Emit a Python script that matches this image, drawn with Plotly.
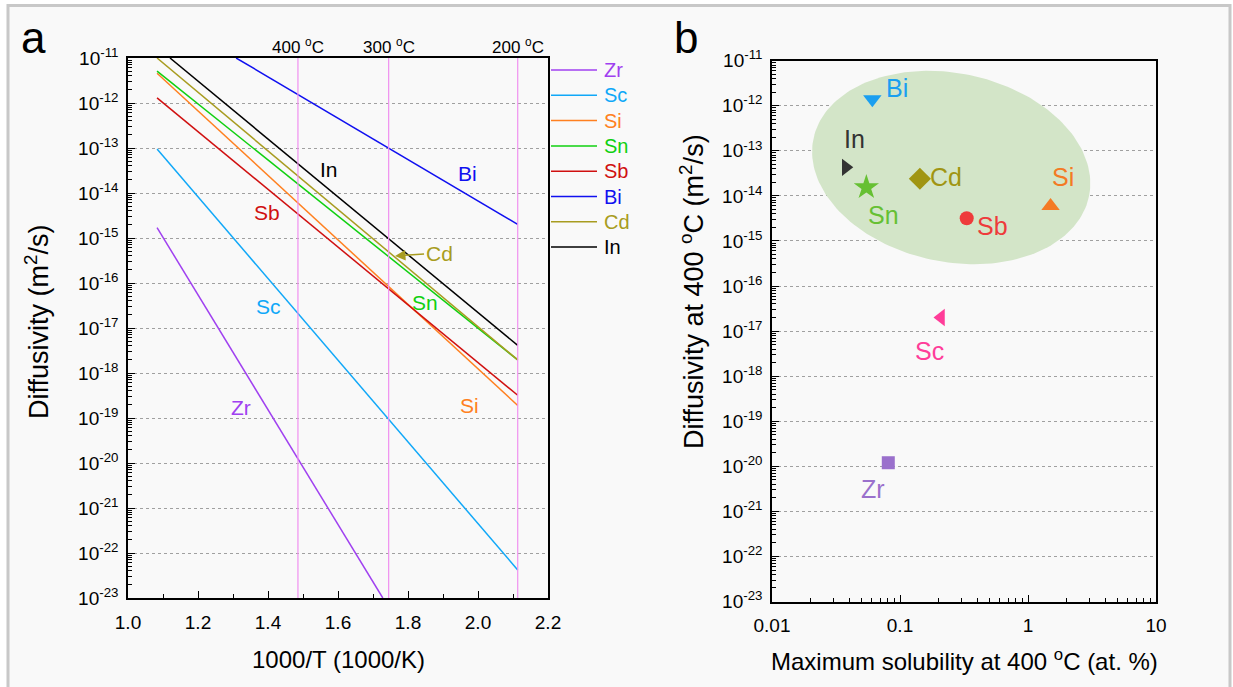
import numpy as np
import plotly.graph_objects as go

W, H = 1233, 687
FONT = "Liberation Sans, Arial, Helvetica, sans-serif"

# ---- Panel a: Arrhenius lines (end points in 1000/T and D, m^2/s) ----
elements = ["Zr", "Sc", "Si", "Sn", "Sb", "Bi", "Cd", "In"]
line_colors = ["#a040f0", "#10a8f8", "#ff8020", "#10d010", "#d01010", "#1010f0", "#a89c20", "#000000"]
inv_T_start = [1.083, 1.083, 1.083, 1.083, 1.083, 1.309, 1.083, 1.120]
inv_T_end = [1.728, 2.1135, 2.1135, 2.1135, 2.1135, 2.1135, 2.1135, 2.1135]
D_start = [1.7e-15, 9.5e-14, 4.6e-12, 5.1e-12, 1.3e-12, 1.0e-11, 1.0e-11, 1.0e-11]
D_end = [1.0e-23, 4.2e-23, 1.9e-19, 1.95e-18, 3.2e-19, 2.0e-15, 1.95e-18, 4.1e-18]

# in-plot labels of panel a: (1000/T, log10 D)
label_a_x = [1.323, 1.400, 1.977, 1.849, 1.397, 1.969, 1.880, 1.574]
label_a_logy = [-18.76, -16.53, -18.73, -16.44, -14.44, -13.56, -15.36, -13.47]

# reference temperatures (deg C) marked by vertical lines
ref_temps_C = [400, 300, 200]

# ---- Panel b: diffusivity at 400 C vs maximum solubility ----
solubility_400C = [0.081, 0.209, 1.50, 0.0546, 0.332, 0.0608, 0.143, 0.0377]   # at.%
D_400C = [1.2e-20, 2.0e-17, 6.0e-15, 1.55e-14, 3.2e-15, 1.4e-12, 2.4e-14, 4.3e-14]
marker_symbols = ["square", "triangle-left", "triangle-up", "star", "circle",
                  "triangle-down", "diamond", "triangle-right"]
marker_colors = ["#9a70cc", "#ff3d99", "#f47a24", "#66c033", "#ee3b3b", "#1a9ff0", "#a09512", "#333333"]
marker_sizes = [13, 15, 16, 19, 14, 16, 17, 15]
# label offsets (px) from each marker
label_b_dx = [-15, -11, 12, 17, 26, 25, 26, 9]
label_b_dy = [-26, -33, 29, -28, -8, 11, 2, 28]

fig = go.Figure()

# lines of panel a
for name, c, x0, x1, d0, d1 in zip(elements, line_colors, inv_T_start, inv_T_end, D_start, D_end):
    fig.add_trace(go.Scatter(x=[x0, x1], y=[d0, d1], mode="lines", name=name,
                             line=dict(color=c, width=1.5), xaxis="x", yaxis="y",
                             showlegend=False, hoverinfo="skip"))

# shaded region grouping the fast diffusers in panel b (ellipse in log-log space)
t = np.linspace(0, 2 * np.pi, 200)
cx, cy = -0.60, -13.37
ux, uy = 1.076, -0.644
vx, vy = -0.152, -2.047
ex = 10 ** (cx + ux * np.cos(t) + vx * np.sin(t))
ey = 10 ** (cy + uy * np.cos(t) + vy * np.sin(t))
fig.add_trace(go.Scatter(x=ex, y=ey, mode="lines", fill="toself", fillcolor="#d3e5c8",
                         line=dict(width=0, color="#d3e5c8"), xaxis="x2", yaxis="y2",
                         showlegend=False, hoverinfo="skip"))

for name, s, d, sym, c, sz in zip(elements, solubility_400C, D_400C, marker_symbols, marker_colors, marker_sizes):
    fig.add_trace(go.Scatter(x=[s], y=[d], mode="markers", name=name,
                             marker=dict(symbol=sym, color=c, size=sz, line=dict(width=0)),
                             xaxis="x2", yaxis="y2", showlegend=False))

dec = list(range(-23, -10))
y_tickvals = [10.0 ** e for e in dec]
y_ticktext = ["10<sup>%d</sup>" % e for e in dec]
y_minor_vals = [k * 10.0 ** e for e in dec[:-1] for k in range(2, 10)]
x2_tickvals = [0.01, 0.1, 1, 10]
x2_ticktext = ["0.01", "0.1", "1", "10"]
x2_minor_vals = [k * 10.0 ** e for e in range(-2, 1) for k in range(2, 10)]

axis_common = dict(showline=True, linecolor="black", linewidth=1.5, mirror=True,
                   ticks="inside", ticklen=7, tickwidth=1, tickcolor="black",
                   zeroline=False, automargin=False,
                   tickfont=dict(size=19, color="black", family=FONT))
minor_log_y = dict(tickmode="array", tickvals=y_minor_vals, ticks="inside", ticklen=4,
                   tickcolor="black", showgrid=False)

xa = 128 / W, 548 / W
xb = 772 / W, 1156 / W
ya = 1 - 598 / H, 1 - 58 / H
yb = 1 - 601.5 / H, 1 - 60.7 / H

fig.update_layout(
    width=W, height=H,
    margin=dict(l=0, r=0, t=0, b=0, pad=0),
    paper_bgcolor="white", plot_bgcolor="rgba(0,0,0,0)",
    font=dict(family=FONT, color="black"),
    showlegend=False,
    xaxis=dict(domain=xa, range=[1.0, 2.2], anchor="y", tick0=1.0, dtick=0.2,
               tickformat=".1f", showgrid=False, ticklabelstandoff=6,
               minor=dict(ticks="inside", ticklen=4, dtick=0.1, tickcolor="black"),
               **axis_common),
    yaxis=dict(domain=ya, type="log", range=[-23, -11], anchor="x",
               tickmode="array", tickvals=y_tickvals, ticktext=y_ticktext,
               showgrid=True, gridcolor="#a0a0a0", griddash="dot", gridwidth=1,
               ticklabelstandoff=4, minor=minor_log_y, **axis_common),
    xaxis2=dict(domain=xb, type="log", range=[-2, 1], anchor="y2",
                tickmode="array", tickvals=x2_tickvals, ticktext=x2_ticktext,
                showgrid=False, ticklabelstandoff=6,
                minor=dict(tickmode="array", tickvals=x2_minor_vals, ticks="inside",
                           ticklen=4, tickcolor="black", showgrid=False),
                **axis_common),
    yaxis2=dict(domain=yb, type="log", range=[-23, -11], anchor="x2",
                tickmode="array", tickvals=y_tickvals, ticktext=y_ticktext,
                showgrid=True, gridcolor="#a0a0a0", griddash="dot", gridwidth=1,
                ticklabelstandoff=4, minor=minor_log_y, **axis_common),
)

shapes = []
# figure frame
shapes.append(dict(type="rect", xref="paper", yref="paper", x0=8 / W, x1=1230 / W,
                   y0=-0.01, y1=1 - 5.5 / H, line=dict(color="#c8c8c8", width=3),
                   fillcolor="#f9f9f9", layer="below"))
# vertical lines at the reference temperatures
for tc in ref_temps_C:
    xv = 1000.0 / (tc + 273.15)
    shapes.append(dict(type="line", xref="x", yref="y domain", x0=xv, x1=xv, y0=0, y1=1,
                       line=dict(color="#f090f0", width=1.2), layer="above"))

# legend of panel a (line swatch + coloured name)
annotations = []
for i, (name, c) in enumerate(zip(elements, line_colors)):
    yp = 1 - (70 + 25.3 * i) / H
    shapes.append(dict(type="line", xref="paper", yref="paper", x0=551 / W, x1=597 / W,
                       y0=yp, y1=yp, line=dict(color=c, width=1.5)))
    annotations.append(dict(xref="paper", yref="paper", x=602 / W, y=yp, text=name,
                            showarrow=False, xanchor="left", yanchor="middle",
                            font=dict(size=20, color=c)))

for tc in ref_temps_C:
    xv = 1000.0 / (tc + 273.15)
    annotations.append(dict(xref="x", yref="paper", x=xv, y=1 - 46 / H,
                            text="%d <sup>o</sup>C" % tc, showarrow=False,
                            xanchor="center", yanchor="middle", font=dict(size=17)))

# in-plot labels of panel a
for name, c, lx, ly in zip(elements, line_colors, label_a_x, label_a_logy):
    if name == "Cd":
        annotations.append(dict(xref="x", yref="y", x=1.763, y=-15.40, text=name,
                                showarrow=True, ax=44, ay=-3, arrowhead=2, arrowsize=1.3,
                                arrowwidth=1.6, arrowcolor=c, standoff=0,
                                font=dict(size=21, color=c)))
    else:
        annotations.append(dict(xref="x", yref="y", x=lx, y=ly, text=name, showarrow=False,
                                xanchor="center", yanchor="middle",
                                font=dict(size=21, color=c)))

# labels of panel b
for name, c, s, d, dx, dy in zip(elements, marker_colors, solubility_400C, D_400C, label_b_dx, label_b_dy):
    annotations.append(dict(xref="x2", yref="y2", x=np.log10(s), y=np.log10(d), text=name,
                            showarrow=False, xshift=dx, yshift=dy,
                            xanchor="center", yanchor="middle",
                            font=dict(size=25, color=c)))

# axis titles and panel letters
centered = dict(xref="paper", yref="paper", showarrow=False, xanchor="center", yanchor="middle")
annotations += [
    dict(x=338 / W, y=1 - 659 / H, text="1000/T (1000/K)", font=dict(size=24), **centered),
    dict(x=37 / W, y=1 - 322 / H, text="Diffusivity (m<sup>2</sup>/s)", textangle=-90,
         font=dict(size=27), **centered),
    dict(x=964 / W, y=1 - 660 / H, text="Maximum solubility at 400 <sup>o</sup>C (at. %)",
         font=dict(size=24), **centered),
    dict(x=692 / W, y=1 - 292 / H, text="Diffusivity at 400 <sup>o</sup>C (m<sup>2</sup>/s)",
         textangle=-90, font=dict(size=27), **centered),
    dict(x=33 / W, y=1 - 38 / H, text="a", font=dict(size=44), **centered),
    dict(x=686 / W, y=1 - 38 / H, text="b", font=dict(size=44), **centered),
]

fig.update_layout(shapes=shapes, annotations=annotations)
fig.write_html("out.html")
